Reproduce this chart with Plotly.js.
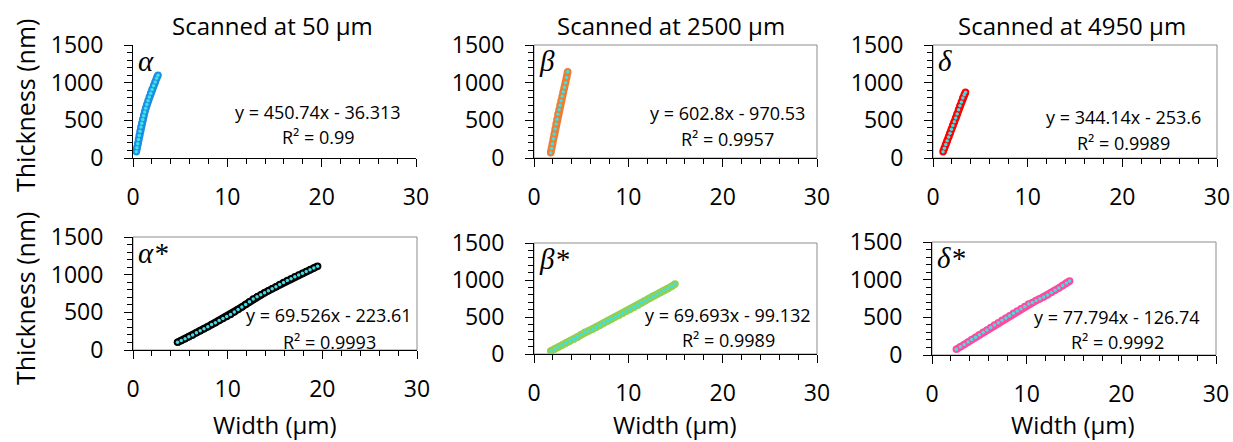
<!DOCTYPE html>
<html>
<head>
<meta charset="utf-8">
<script src="https://cdn.plot.ly/plotly-3.0.1.min.js"></script>
<style>html,body{margin:0;padding:0;background:#fff;}#chart{width:1233px;height:442px;}</style>
</head>
<body>
<div id="chart"></div>
<script>
// ---------- data ----------
const colTitles = ["Scanned at 50 µm", "Scanned at 2500 µm", "Scanned at 4950 µm"];
const panelLabels = ["α", "β", "δ", "α*", "β*", "δ*"];
const equations = ["y = 450.74x - 36.313", "y = 602.8x - 970.53", "y = 344.14x - 253.6",
                   "y = 69.526x - 223.61", "y = 69.693x - 99.132", "y = 77.794x - 126.74"];
const r2Values = ["0.99", "0.9957", "0.9989", "0.9993", "0.9989", "0.9992"];
const yTitle = "Thickness (nm)";
const xTitle = "Width (µm)";

const alphaX = [0.35,0.42,0.5,0.58,0.66,0.75,0.84,0.93,1.03,1.13,1.24,1.35,1.47,1.6,1.73,1.87,2.02,2.18,2.35,2.5,2.65];
const alphaY = [84,135,190,245,300,355,410,460,510,560,610,660,710,760,810,860,910,960,1010,1060,1100];

const betaX = [1.77,1.86,1.95,2.05,2.14,2.24,2.34,2.44,2.54,2.65,2.76,2.87,2.99,3.1,3.22,3.34,3.46,3.57];
const betaY = [70,130,190,255,320,385,450,515,580,640,700,760,820,880,940,1000,1070,1145];

const deltaX = [1.06,1.2,1.35,1.5,1.65,1.8,1.95,2.1,2.25,2.4,2.55,2.7,2.85,3.0,3.15,3.3,3.43];
const deltaY = [84,130,180,230,280,330,380,430,480,530,585,640,695,745,795,840,872];

const alphaStarX = [4.7,5.1,5.5,5.9,6.3,6.7,7.1,7.5,7.9,8.3,8.7,9.1,9.5,9.9,10.3,10.7,11.1,11.5,11.9,12.3,12.7,13.1,13.5,13.9,14.3,14.7,15.1,15.5,15.9,16.3,16.7,17.1,17.5,17.9,18.3,18.7,19.1,19.5];
const alphaStarY = [102,125,150,175,200,228,255,283,310,337,363,390,417,445,472,503,537,570,604,640,678,706,733,760,787,814,841,868,895,922,947,971,995,1018,1042,1066,1090,1112];

const betaStarX = [1.77,2.2,2.6,3.0,3.4,3.8,4.2,4.6,5.0,5.4,5.8,6.2,6.6,7.0,7.4,7.8,8.2,8.6,9.0,9.4,9.8,10.2,10.6,11.0,11.4,11.8,12.2,12.6,13.0,13.4,13.8,14.2,14.6,14.95];
const betaStarY = [41,68,95,122,150,175,200,228,265,295,315,335,360,388,418,447,474,500,525,550,577,604,632,660,690,720,750,780,805,830,858,885,915,946];

const deltaStarX = [2.57,3.0,3.4,3.8,4.2,4.6,5.0,5.4,5.8,6.2,6.6,7.0,7.4,7.8,8.2,8.6,9.0,9.4,9.8,10.2,10.6,11.0,11.4,11.8,12.2,12.6,13.0,13.4,13.8,14.2,14.54];
const deltaStarY = [75,109,141,173,205,237,269,301,333,365,397,429,460,492,522,553,584,615,645,676,698,722,747,771,796,828,860,891,923,955,982];

// ---------- styling ----------
const W = 1233, H = 442;
const FONT = "'Open Sans', Lato, sans-serif";
const colors = ["#1B8FE6", "#ED7D31", "#FF0000", "#000000", "#92D050", "#FF4B9E"];
const dotColor = "#3FE0E6";
const seriesX = [alphaX, betaX, deltaX, alphaStarX, betaStarX, deltaStarX];
const seriesY = [alphaY, betaY, deltaY, alphaStarY, betaStarY, deltaStarY];

// plot boxes in pixels: [left, right, top, bottom]
const boxes = [
  [133, 416, 45, 158], [534, 817, 45, 158], [933, 1217, 45, 158],
  [133, 417, 237, 350], [534, 817, 243, 354], [932, 1216, 242, 355]
];
// equation block centre x (px), line-1 centre y, line-2 centre y (px)
const eqPos = [[318, 112, 137], [727, 113, 139], [1123, 117, 143], [329, 315, 342], [728, 315, 340], [1117, 317, 342]];

const traces = [];
const layout = {
  width: W, height: H,
  margin: {l: 0, r: 0, t: 0, b: 0},
  paper_bgcolor: "#fff", plot_bgcolor: "#fff",
  showlegend: false,
  font: {family: FONT, color: "#000", size: 23},
  annotations: [], shapes: []
};
const px = v => v / W, py = v => 1 - v / H;

for (let i = 0; i < 6; i++) {
  const n = i + 1;
  const xa = "x" + (n === 1 ? "" : n), ya = "y" + (n === 1 ? "" : n);
  const xk = "xaxis" + (n === 1 ? "" : n), yk = "yaxis" + (n === 1 ? "" : n);
  const b = boxes[i];
  traces.push({
    x: seriesX[i], y: seriesY[i], xaxis: xa, yaxis: ya, type: "scatter",
    mode: "lines+markers", line: {color: colors[i], width: 7.5},
    marker: {color: colors[i], size: 7.5}, hoverinfo: "skip"
  });
  traces.push({
    x: seriesX[i], y: seriesY[i], xaxis: xa, yaxis: ya, type: "scatter",
    mode: "markers", marker: {color: dotColor, size: 3.5}, hoverinfo: "skip"
  });
  layout[xk] = {
    domain: [b[0] / W, b[1] / W], anchor: ya, range: [0, 30],
    tickvals: [0, 10, 20, 30], ticks: "outside", ticklen: 8, tickcolor: "#000", tickwidth: 1,
    minor: {dtick: 2, ticks: "outside", ticklen: 5, tickcolor: "#000", tickwidth: 1},
    showline: true, linecolor: "#000", linewidth: 1, showgrid: false, zeroline: false,
    tickfont: {family: FONT, size: 23, color: "#000"}, ticklabelstandoff: 10, fixedrange: true
  };
  layout[yk] = {
    domain: [1 - b[3] / H, 1 - b[2] / H], anchor: xa, range: [0, 1500],
    tickvals: [0, 500, 1000, 1500], ticks: "outside", ticklen: 8, tickcolor: "#000", tickwidth: 1,
    minor: {dtick: 100, ticks: "outside", ticklen: 5, tickcolor: "#000", tickwidth: 1},
    showline: true, linecolor: "#000", linewidth: 1, showgrid: false, zeroline: false,
    tickfont: {family: FONT, size: 23, color: "#000"}, ticklabelstandoff: 16, fixedrange: true
  };
  // box (top/right) in gray
  if (i !== 0) {
    layout.shapes.push({type: "rect", xref: xa + " domain", yref: ya + " domain",
      x0: 0, x1: 1, y0: 0, y1: 1, line: {color: "#8c8c8c", width: 1}, layer: "below"});
  }
  // panel label
  layout.annotations.push({
    xref: xa + " domain", yref: ya + " domain", x: 0.01, y: 1.02, xanchor: "left", yanchor: "top",
    text: panelLabels[i], showarrow: false,
    font: {family: "'Liberation Serif', 'DejaVu Serif', serif", size: 29, color: "#000", style: "italic"}
  });
  // equation (two lines)
  const ep = eqPos[i];
  layout.annotations.push({
    xref: "paper", yref: "paper", x: px(ep[0]), y: py(ep[1]),
    xanchor: "center", yanchor: "middle", showarrow: false,
    text: equations[i], font: {family: FONT, size: 18, color: "#000"}
  });
  layout.annotations.push({
    xref: "paper", yref: "paper", x: px(ep[0]), y: py(ep[2]),
    xanchor: "center", yanchor: "middle", showarrow: false,
    text: "R² = " + r2Values[i], font: {family: FONT, size: 18, color: "#000"}
  });
}
// column titles
const titleX = [272, 671, 1072];
for (let c = 0; c < 3; c++) {
  layout.annotations.push({
    xref: "paper", yref: "paper", x: px(titleX[c]), y: py(25),
    xanchor: "center", yanchor: "middle", showarrow: false, text: colTitles[c],
    font: {family: FONT, size: 24, color: "#000"}
  });
}
// y-axis titles (left column)
[106, 299].forEach(yc => layout.annotations.push({
  xref: "paper", yref: "paper", x: px(25), y: py(yc), xanchor: "center", yanchor: "middle",
  textangle: -90, showarrow: false, text: yTitle, font: {family: FONT, size: 25, color: "#000"}
}));
// x-axis titles (bottom row)
[275, 675, 1073].forEach(xc => layout.annotations.push({
  xref: "paper", yref: "paper", x: px(xc), y: py(424), xanchor: "center", yanchor: "middle",
  showarrow: false, text: xTitle, font: {family: FONT, size: 24, color: "#000"}
}));

Plotly.newPlot("chart", traces, layout, {displayModeBar: false, staticPlot: true});
</script>
</body>
</html>
